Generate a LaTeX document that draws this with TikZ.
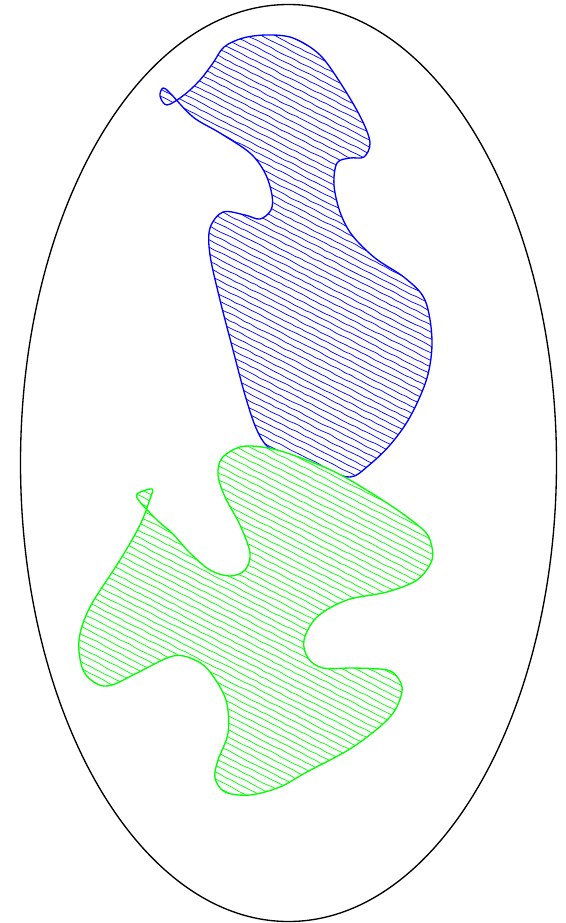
\documentclass[tikz,border=0pt]{standalone}
\usetikzlibrary{decorations.pathmorphing}

\tikzset{
    outline/.style={line width=0.95pt},
    hatch/.style={line width=0.5pt, rounded corners=1pt, decorate,
        decoration={random steps, segment length=4pt, amplitude=0.35pt}},
}

% Bentuk daerah biru
\def\bluearea{plot[smooth cycle, tension=0.55] coordinates {
    (200,80) (213,63) (224,47) (243,38) (267,35) (293,38) (320,55)
    (343,87) (362,120) (370,143) (364,157) (350,158) (337,163)
    (334,185) (340,212) (352,235) (375,258) (405,278) (425,300)
    (432,340) (427,378) (410,417) (390,445) (368,466) (350,477)
    (320,468) (290,458) (268,447) (256,428) (245,395) (233,350)
    (220,300) (210,255) (210,228) (223,212) (245,215) (260,219)
    (271,210) (272,195) (265,173) (250,153) (220,133) (193,117)
    (170,93) (163,88) (160,96) (167,105) (184,95)}}

% Bentuk daerah hijau
\def\greenarea{plot[smooth cycle, tension=0.55] coordinates {
    (240,447) (222,458) (218,475) (225,497) (240,525) (250,553)
    (245,570) (230,576) (210,570) (190,553) (172,533) (158,521)
    (140,502) (137,494) (152,489) (150,499) (140,525) (120,560)
    (90,607) (79,640) (83,670) (97,684) (112,685) (137,673)
    (173,656) (195,660) (210,672) (226,700) (228,733) (218,760)
    (215,778) (225,792) (250,795) (280,787) (305,773) (353,747)
    (390,717) (402,692) (398,678) (387,670) (355,668) (323,668)
    (308,658) (304,640) (317,617) (347,600) (387,592) (417,580)
    (432,560) (430,540) (420,527) (387,503) (337,473) (290,454)
    (262,447)}}

\begin{document}
\begin{tikzpicture}[x=0.025cm, y=-0.025cm]
    \useasboundingbox (0,0) rectangle (566,923);

    % Elips luar
    \draw[outline] (288.5,463) ellipse [x radius=268, y radius=458.5];

    % Daerah biru dengan arsiran
    \begin{scope}
        \clip \bluearea;
        \foreach \c in {-165,-158,...,480} {
            \draw[hatch, blue] (60,\c) -- (450,\c+199);
        }
    \end{scope}
    \draw[outline, blue] \bluearea;

    % Daerah hijau dengan arsiran
    \fill[white] \greenarea;
    \begin{scope}
        \clip \greenarea;
        \foreach \c in {245,252,...,800} {
            \draw[hatch, green] (60,\c) -- (450,\c+199);
        }
    \end{scope}
    \draw[outline, green] \greenarea;
\end{tikzpicture}
\end{document}
